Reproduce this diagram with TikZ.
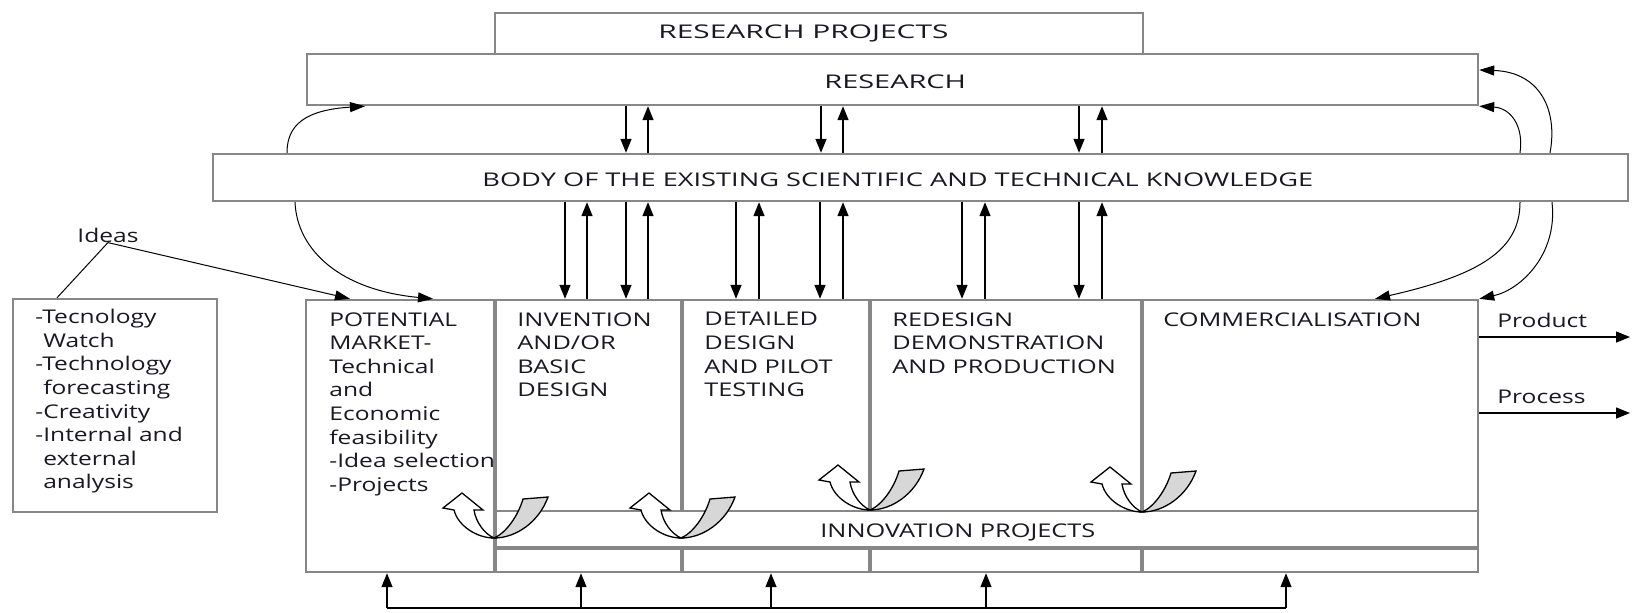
\documentclass[tikz,border=0pt]{standalone}
\usepackage{fontspec}
\setmainfont{Open Sans}[FakeStretch=1.3]
\newfontfamily\fontRP{Open Sans}[FakeStretch=1.58]
\newfontfamily\fontRES{Open Sans}[FakeStretch=1.53]
\newfontfamily\fontBODY{Open Sans}[FakeStretch=1.44]
\newfontfamily\fontSTG{Open Sans}[FakeStretch=1.34]
\usetikzlibrary{arrows.meta,fit}
\definecolor{bgray}{RGB}{135,135,135}
\definecolor{hgray}{RGB}{215,215,215}
\definecolor{txt}{RGB}{25,25,35}
\tikzset{
  gbox/.style={draw=bgray, line width=1.2pt, inner sep=0pt, fill=white},
  divline/.style={draw=bgray, line width=1.8pt},
  arr/.style={line width=0.7pt, -{Triangle[length=7pt,width=5.5pt]}},
  carr/.style={line width=0.5pt, -{Triangle[length=7.5pt,width=5pt]}},
  lbl/.style={inner sep=0pt, anchor=base west},
  mlbl/.style={inner sep=0pt, anchor=north west, align=left},
  uturn/.pic={
    \draw[line width=0.65pt, fill=hgray] (0,0) .. controls (22,0) and (45,-16) .. (54,-41)
      -- (29,-39) .. controls (24,-22) and (12,-5) .. (0,0) -- cycle;
    \draw[line width=0.65pt, fill=white] (0,0) .. controls (-17,0) and (-36,-12) .. (-40,-28)
      -- (-51,-30) -- (-32,-45) -- (-11,-28) -- (-20,-28)
      .. controls (-18,-15) and (-9,-4) .. (0,0) -- cycle;
  }
}
\begin{document}
\begin{tikzpicture}[x=0.5pt,y=-0.5pt,font=\fontsize{9.45}{11.8}\selectfont,text=txt]
\useasboundingbox (0,0) rectangle (1633,612);
% boxes
\node[gbox, fit={(495,13)(1143,54)}] (rp) {};
\node[gbox, fit={(307,54)(1478,105)}] (res) {};
\node[gbox, fit={(213,154)(1628,201)}] (body) {};
\node[gbox, fit={(13,299)(217,512)}] (ext) {};
\node[gbox, fit={(306,300)(1478,572)}] (stages) {};
\node[gbox, line width=1pt, fit={(495,511)(1478,547)}] (innov) {};
\draw[divline] (innov.south west) -- (innov.south east);
% dividers
\draw[divline] (stages.north -| 495,0) -- (stages.south -| 495,0);
\foreach \xx in {682,870,1142}{
  \draw[divline] (stages.north -| \xx,0) -- (innov.north -| \xx,0);
  \draw[divline] (innov.south -| \xx,0) -- (stages.south -| \xx,0);
}
% texts
\node[lbl, font=\fontRP\fontsize{9.45}{11.8}\selectfont] (trp) at (658,38) {RESEARCH PROJECTS};
\node[lbl, font=\fontRES\fontsize{9.45}{11.8}\selectfont] (tres) at (824,88) {RESEARCH};
\node[lbl, font=\fontBODY\fontsize{9.45}{11.8}\selectfont] (tbody) at (482,186) {BODY OF THE EXISTING SCIENTIFIC AND TECHNICAL KNOWLEDGE};
\node[lbl] (ideas) at (77,242) {Ideas};
\node[mlbl] (text) at (35,309) {-Tecnology\\\phantom{-}Watch\\-Technology\\\phantom{-}forecasting\\-Creativity\\-Internal and\\\phantom{-}external\\\phantom{-}analysis};
\node[mlbl] (tpot) at (329,312) {POTENTIAL\\MARKET-\\Technical\\and\\Economic\\feasibility\\-Idea selection\\-Projects};
\begin{scope}[font=\fontSTG\fontsize{9.45}{11.8}\selectfont]
\node[mlbl] (tinv) at (517,312) {INVENTION\\AND/OR\\BASIC\\DESIGN};
\node[mlbl] (tdet) at (704,312) {DETAILED\\DESIGN\\AND PILOT\\TESTING};
\node[mlbl] (tred) at (892,312) {REDESIGN\\DEMONSTRATION\\AND PRODUCTION};
\node[mlbl] (tcom) at (1163,312) {COMMERCIALISATION};
\node[lbl] (tinn) at (820,537) {INNOVATION PROJECTS};
\end{scope}
\node[lbl] (tprod) at (1497,327) {Product};
\node[lbl] (tproc) at (1497,403) {Process};
% research <-> body
\foreach \d/\u in {626/648,821/843,1079/1102}{
  \draw[arr] (res.south -| \d,0) -- (body.north -| \d,0);
  \draw[arr] (body.north -| \u,0) -- (res.south -| \u,0);
}
% body <-> stages
\foreach \d/\u in {565/587,626/648,736/759,820/843,962/985,1079/1102}{
  \draw[arr] (body.south -| \d,0) -- (stages.north -| \d,0);
  \draw[arr] (stages.north -| \u,0) -- (body.south -| \u,0);
}
% curved arrows
\draw[carr] (body.north -| 287,0) .. controls (287,125) and (305,110) .. (res.south -| 365,0);
\draw[carr] (body.south -| 295,0) .. controls (297,250) and (340,290) .. (stages.north -| 433,0);
\draw[carr] (body.north -| 1520,0) .. controls (1524,125) and (1510,108) .. (res.south east);
\draw[carr] (body.north -| 1550,0) .. controls (1558,110) and (1540,72) .. (res.east |- 0,70);
\draw[carr] (body.south -| 1520,0) .. controls (1520,250) and (1480,275) .. (stages.north -| 1375,0);
\draw[carr] (body.south -| 1552,0) .. controls (1558,255) and (1520,290) .. (stages.north east);
% ideas
\draw[line width=0.5pt] (ideas.south) -- (ext.north -| 57,0);
\draw[carr] (ideas.south) -- (stages.north -| 350,0);
% outputs
\coordinate (prodEnd) at (1630,337);
\coordinate (procEnd) at (1630,413);
\draw[arr] (stages.east |- prodEnd) -- (prodEnd);
\draw[arr] (stages.east |- procEnd) -- (procEnd);
% feedback
\coordinate (fbL) at (387,608);
\coordinate (fbR) at (1286,608);
\draw[line width=0.7pt] (fbL) -- (fbR);
\foreach \xx in {387,581,771,986,1286}{
  \draw[arr] (fbL -| \xx,0) -- (stages.south -| \xx,0);
}
% u-turn arrows
\coordinate (h1) at (494,538);
\coordinate (h2) at (681,538);
\coordinate (h3) at (870,510);
\coordinate (h4) at (1142,512);
\foreach \h in {h1,h2,h3,h4}{ \pic at (\h) {uturn}; }
\end{tikzpicture}
\end{document}
